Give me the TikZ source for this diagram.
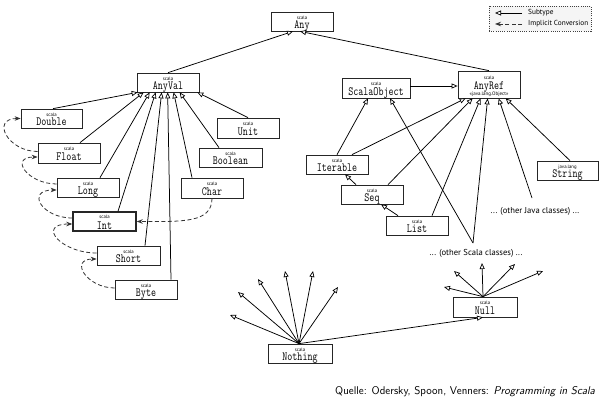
\documentclass[tikz,border=0pt]{standalone}
\usepackage{fontspec}
\usepackage{graphicx}
\usetikzlibrary{arrows.meta,calc}
\newfontfamily\ptsans{PT Sans}
\tikzset{
  box/.style={draw=black!85, line width=0.7pt, fill=white, inner sep=0pt, minimum width=62pt, minimum height=19pt},
  pkg/.style={font=\ptsans\fontsize{4.8}{5}\selectfont, inner sep=0pt, anchor=base},
  cname/.style={font=\fontsize{12.5}{13}\ttfamily, inner sep=0pt, anchor=base},
  sub/.style={draw=black, line width=0.75pt, -{Triangle[length=6pt,width=5pt,fill=white,line width=0.7pt]}},
  conv/.style={draw=black!80, line width=0.8pt, dash pattern=on 4pt off 2.5pt, -{Stealth[length=6pt,width=4.5pt]}},
  note/.style={font=\ptsans\fontsize{8.6}{10}\selectfont, inner sep=0pt},
  legendtxt/.style={font=\ptsans\fontsize{7.3}{8}\selectfont, inner sep=0pt, anchor=west},
}
\newcommand{\klass}[7]{%
  \node[box, minimum width=#4pt, minimum height=#5pt] (#1) at (#2,#3) {};
  \node[pkg] (#1-pkg) at ([yshift=-7.5pt]#1.north) {#6};
  \node[cname] (#1-name) at ([yshift=2.5pt]#1.south) {\scalebox{0.78}[1]{#7}};
}
\begin{document}
\begin{tikzpicture}[x=1pt,y=-1pt]
\useasboundingbox[fill=white] (0,0) rectangle (600,401);

% classes
\klass{Any}{302}{21.5}{62}{19}{scala}{Any}
\klass{AnyVal}{168}{82.5}{62}{19}{scala}{AnyVal}
\klass{Double}{51.5}{118.5}{61}{19}{scala}{Double}
\klass{Float}{69}{153}{62}{20}{scala}{Float}
\klass{Long}{88}{187.5}{62}{19}{scala}{Long}
\klass{Unit}{248}{128}{62}{20}{scala}{Unit}
\klass{Boolean}{230.5}{157.5}{63}{19}{scala}{Boolean}
\klass{Char}{212}{188}{62}{20}{scala}{Char}
\klass{Short}{128.5}{255.5}{63}{19}{scala}{Short}
\klass{Byte}{146}{289.5}{62}{19}{scala}{Byte}
\klass{Nothing}{300}{353.5}{64}{19}{scala}{Nothing}
\klass{Null}{485}{307}{64}{20}{scala}{Null}
\klass{ScalaObject}{376}{88}{68}{20}{scala}{ScalaObject}
\klass{Iterable}{337}{164.5}{62}{19}{scala}{Iterable}
\klass{Seq}{372}{194.5}{62}{19}{scala}{Seq}
\klass{List}{417}{225.5}{62}{19}{scala}{List}
\klass{String}{567.5}{170.5}{61}{19}{java.lang}{String}
% Int with thick border
\node[box, line width=1.4pt, minimum width=63pt, minimum height=19pt] (Int) at (104.5,221.5) {};
\node[pkg] (Int-pkg) at ([yshift=-7.5pt]Int.north) {scala};
\node[cname] (Int-name) at ([yshift=2.5pt]Int.south) {\scalebox{0.78}[1]{Int}};
% AnyRef
\node[box, minimum width=62pt, minimum height=27pt] (AnyRef) at (489,84.5) {};
\node[pkg] (AnyRef-pkg) at (489,79.5) {scala};
\node[cname] (AnyRef-name) at (489,89.5) {\scalebox{0.78}[1]{AnyRef}};
\node[pkg, font=\ptsans\fontsize{5}{5}\selectfont] (AnyRef-obj) at (489,95.5) {«java.lang.Object»};

% other classes
\node[note] (osc) at (476,253) {... (other Scala classes) ...};
\node[note] (ojc) at (535,211) {... (other Java classes) ...};
\coordinate (oscTop) at (473,243);
\coordinate (ojcTop) at (532,198);

% subtype edges
\draw[sub] (AnyVal.north) -- ([xshift=-9pt]Any.south);
\draw[sub] (AnyRef.north) -- ([xshift=-2pt]Any.south);

\draw[sub] ([xshift=1.5pt]Double.north) -- ([xshift=1pt]AnyVal.south west);
\draw[sub] ([xshift=11pt]Float.north) -- ([xshift=7pt]AnyVal.south west);
\draw[sub] ([xshift=12pt]Long.north) -- ([xshift=13pt]AnyVal.south west);
\draw[sub] ([xshift=13.5pt]Int.north) -- ([xshift=19pt]AnyVal.south west);
\draw[sub] ([xshift=16.5pt]Short.north) -- ([xshift=25pt]AnyVal.south west);
\draw[sub] ([xshift=25pt]Byte.north) -- ([xshift=31pt]AnyVal.south west);
\draw[sub] ([xshift=-20pt]Char.north) -- ([xshift=37pt]AnyVal.south west);
\draw[sub] ([xshift=-11.5pt]Boolean.north) -- ([xshift=43pt]AnyVal.south west);
\draw[sub] (Unit.north) -- ([xshift=-2pt]AnyVal.south east);

\draw[sub] ([yshift=2pt]ScalaObject.east) -- ([yshift=-1.5pt]AnyRef.west);
\draw[sub] (Iterable.north) -- ([xshift=-8pt]ScalaObject.south);
\draw[sub] (oscTop) -- ([xshift=14pt]ScalaObject.south);
\draw[sub] ([xshift=-16pt]Seq.north) -- ([xshift=8pt]Iterable.south);
\draw[sub] ([xshift=-19pt]List.north) -- ([xshift=9pt]Seq.south);

\draw[sub] ([xshift=15pt]Iterable.north) -- ([xshift=8pt]AnyRef.south west);
\draw[sub] ([xshift=16pt]Seq.north) -- ([xshift=15pt]AnyRef.south west);
\draw[sub] ([xshift=15pt]List.north) -- ([xshift=23pt]AnyRef.south west);
\draw[sub] (oscTop) -- ([xshift=30pt]AnyRef.south west);
\draw[sub] (ojcTop) -- ([xshift=41pt]AnyRef.south west);
\draw[sub] ([xshift=2.5pt]String.north) -- ([xshift=48pt]AnyRef.south west);

% Nothing fan
\coordinate (nf1) at (230,315);
\coordinate (nf2) at (238,292);
\coordinate (nf3) at (258,279);
\coordinate (nf4) at (285,271);
\coordinate (nf5) at (313,271);
\coordinate (nf6) at (338,287);
\foreach \c in {nf1,nf2,nf3,nf4,nf5,nf6}
  \draw[sub] ([xshift=-1pt]Nothing.north) -- (\c);
\draw[sub] ([xshift=-1pt]Nothing.north) -- ([xshift=-2pt]Null.south);

% Null fan
\coordinate (uf1) at (444,287);
\coordinate (uf2) at (454,271);
\coordinate (uf3) at (482,263);
\coordinate (uf4) at (515,264);
\coordinate (uf5) at (543,271);
\foreach \c in {uf1,uf2,uf3,uf4,uf5}
  \draw[sub] ([xshift=-2pt]Null.north) -- (\c);

% implicit conversions
\draw[conv] ([yshift=1.5pt]Float.west) .. controls +(-30,0) and +(-30,0) .. (Double.west);
\draw[conv] ([yshift=3.5pt]Long.west) .. controls +(-29,0) and +(-29,0) .. ([yshift=-4pt]Float.west);
\draw[conv] ([yshift=3.5pt]Int.west) .. controls +(-31,0) and +(-31,0) .. ([yshift=-2.5pt]Long.west);
\draw[conv] ([yshift=2.5pt]Short.west) .. controls +(-36,0) and +(-36,0) .. ([yshift=-2.5pt]Int.west);
\draw[conv] ([yshift=1.5pt]Byte.west) .. controls +(-28,0) and +(-28,0) .. ([yshift=-3.5pt]Short.west);
\draw[conv] (Char.south) .. controls +(0,25) and +(45,0) .. (Int.east);

% legend
\node[draw=black!75, line width=0.9pt, dash pattern=on 1pt off 1.2pt, fill=black!4, inner sep=0pt, minimum width=102pt, minimum height=25pt] (legend) at (540,18.5) {};
\node[legendtxt] (lsub) at (528,13) {Subtype};
\node[legendtxt] (limp) at (528,24) {Implicit Conversion};
\draw[sub] ([xshift=-6pt]lsub.west) -- ([xshift=-33pt]lsub.west);
\draw[conv] ([xshift=-6pt]limp.west) -- ([xshift=-33pt]limp.west);

% source
\node[font=\sffamily\fontsize{11.2}{13}\selectfont, inner sep=0pt, anchor=base west] (src) at (335,394) {Quelle: Odersky, Spoon, Venners: \textsl{Programming in Scala}};
\end{tikzpicture}
\end{document}
